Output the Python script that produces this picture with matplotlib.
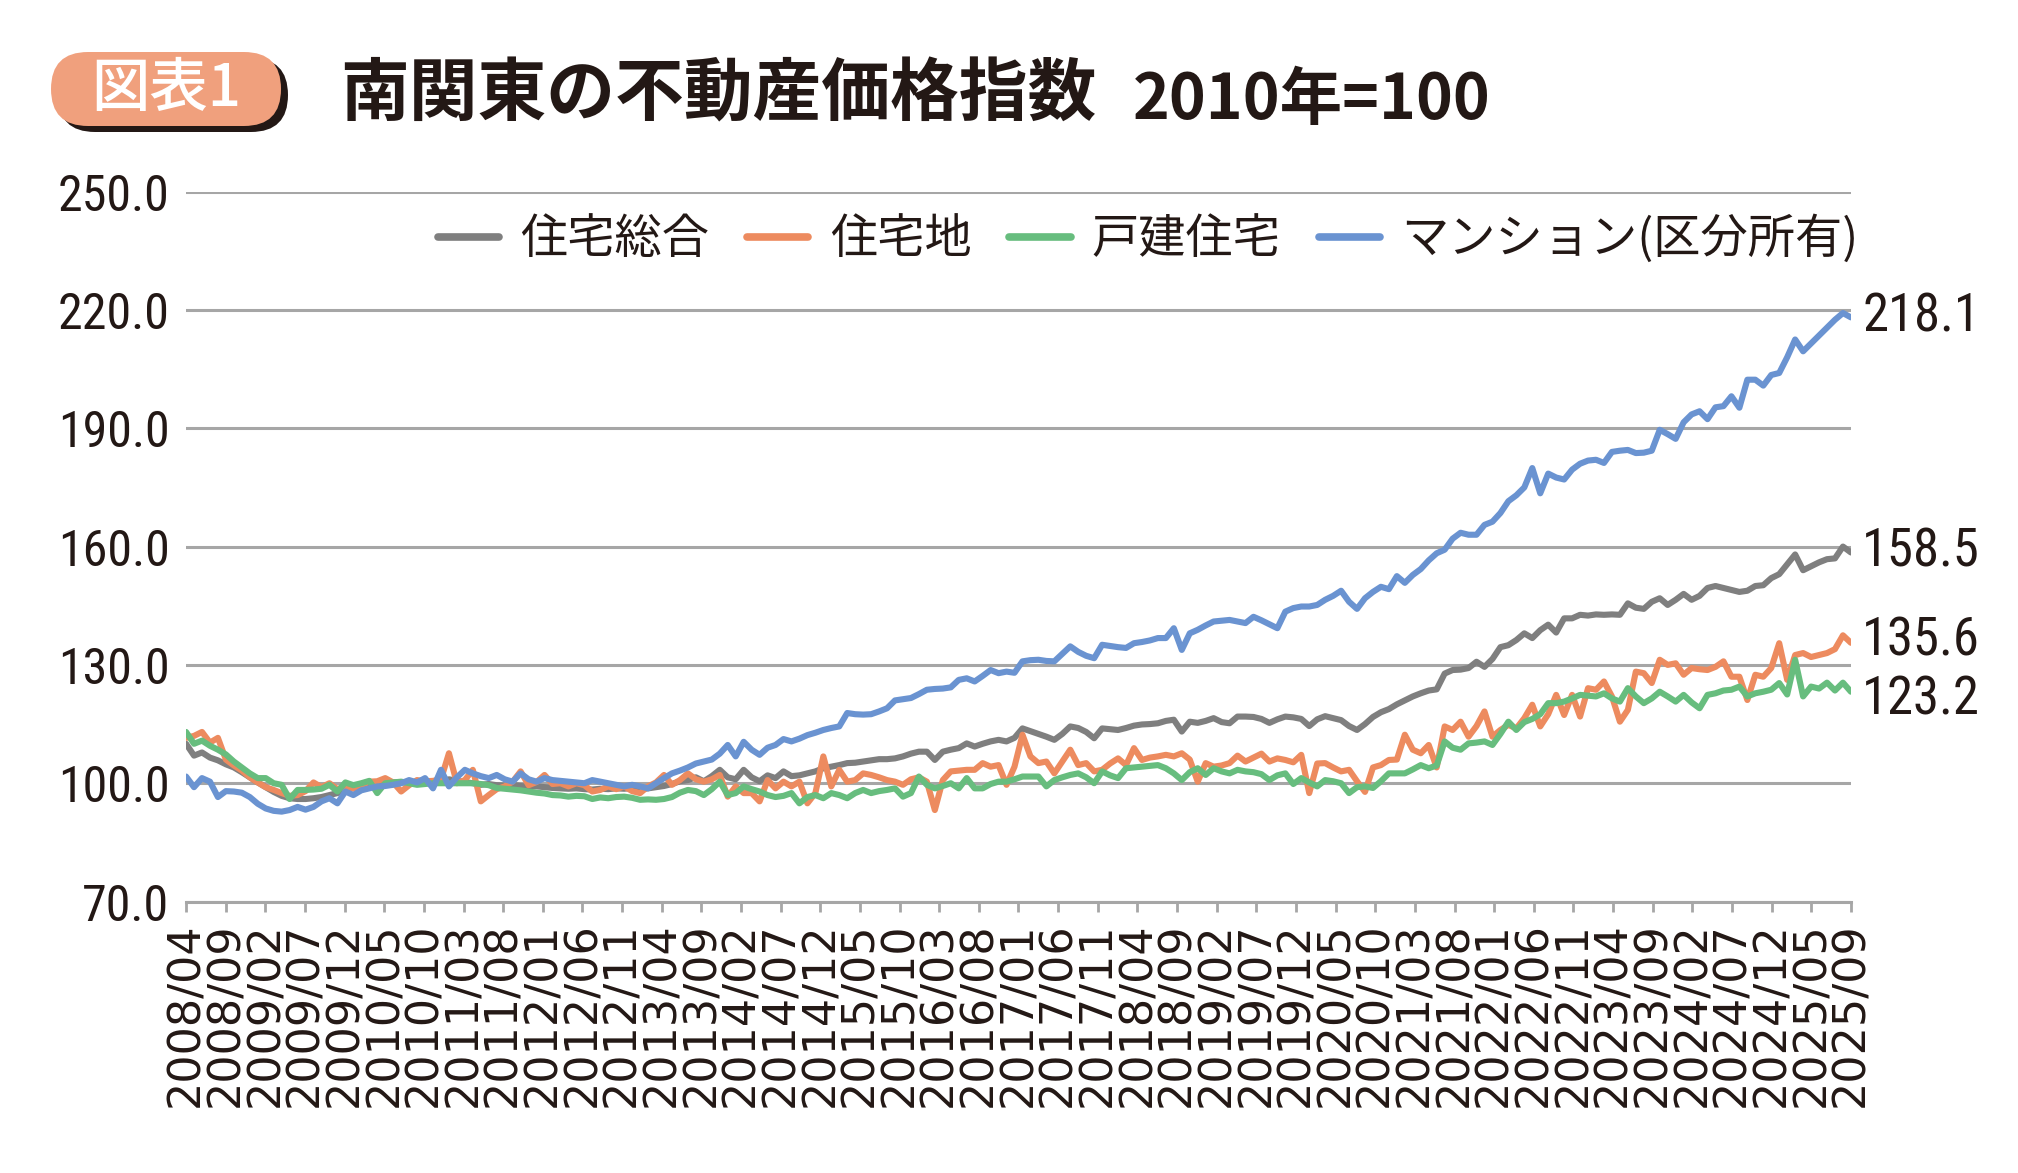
import matplotlib
matplotlib.use('Agg')
import matplotlib.pyplot as plt
from matplotlib import font_manager as fm
from matplotlib.patches import FancyBboxPatch
from matplotlib.transforms import IdentityTransform
import numpy as np
import pandas as pd

plt.rcParams['font.family'] = ['Noto Sans CJK JP', 'DejaVu Sans']

# monthly categories 2008/04 .. 2025/09
months = pd.period_range('2008-04', '2025-09', freq='M').strftime('%Y/%m').tolist()

series_names = ['住宅総合', '住宅地', '戸建住宅', 'マンション(区分所有)']
colors = ['#7f7f7f', '#ED8B5F', '#67BD7E', '#6A93D1']

housing_total = [
    110.0, 107.0, 107.8, 106.5, 105.8, 104.8, 104.0, 102.8, 101.5, 100.2,
    99.0, 97.8, 96.8, 96.2, 96.0, 96.0, 96.2, 96.5, 97.0, 97.5,
    98.3, 99.0, 99.3, 99.6, 99.8, 100.0, 100.2, 100.3, 100.0, 100.4,
    100.2, 100.5, 100.3, 101.0, 100.6, 100.3, 100.0, 99.6, 99.8, 99.5,
    99.4, 99.6, 99.3, 99.1, 99.2, 99.0, 98.8, 98.7, 98.6, 98.7,
    98.5, 98.4, 98.6, 98.5, 98.7, 98.6, 98.8, 98.5, 98.7, 99.0,
    99.3, 99.8, 100.5, 100.8, 101.5, 100.5, 101.8, 103.4, 101.5, 101.0,
    103.4, 101.5, 100.5, 102.0, 101.3, 103.0, 101.8, 102.0, 102.5, 103.0,
    103.8, 104.2, 104.6, 105.1, 105.2, 105.5, 105.8, 106.1, 106.1, 106.3,
    106.8, 107.5, 108.0, 108.0, 105.9, 108.0, 108.5, 108.9, 110.1, 109.3,
    110.0, 110.6, 111.0, 110.6, 111.5, 113.9, 113.2, 112.5, 111.8, 111.0,
    112.5, 114.4, 114.0, 113.0, 111.4, 113.9, 113.7, 113.5, 114.0, 114.6,
    114.9, 115.0, 115.2, 115.8, 116.1, 113.1, 115.6, 115.3, 115.8, 116.5,
    115.5, 115.2, 116.9, 116.9, 116.8, 116.3, 115.3, 116.2, 116.9, 116.7,
    116.3, 114.5, 116.2, 117.0, 116.5, 116.0, 114.5, 113.5, 115.0, 116.8,
    118.0, 118.8, 120.0, 121.0, 122.0, 122.8, 123.5, 123.8, 127.8, 128.7,
    128.8, 129.2, 130.8, 129.5, 131.5, 134.5, 135.0, 136.3, 138.0, 136.8,
    138.8, 140.2, 138.2, 141.8, 141.8, 142.7, 142.5, 142.8, 142.7, 142.8,
    142.7, 145.6, 144.5, 144.2, 146.0, 146.9, 145.2, 146.5, 148.0, 146.5,
    147.5, 149.5, 150.0, 149.5, 149.0, 148.5, 148.8, 150.0, 150.2, 152.0,
    153.0, 155.5, 158.0, 154.0, 155.0, 156.0, 156.8, 157.0, 160.0, 158.5,
]

residential_land = [
    111.5, 112.0, 113.0, 110.3, 111.5, 106.0, 104.5, 103.2, 101.5, 100.2,
    99.0, 98.3, 97.5, 96.8, 97.0, 98.0, 100.2, 99.0, 100.0, 98.5,
    99.2, 98.6, 99.5, 100.4, 100.5, 101.3, 100.2, 97.9, 99.5, 100.8,
    100.5, 100.6, 101.0, 107.6, 100.0, 100.8, 103.4, 95.4, 97.0, 98.5,
    99.2, 100.4, 103.0, 99.5, 100.3, 102.1, 99.8, 100.0, 99.2, 100.0,
    99.5, 97.9, 98.3, 99.2, 98.5, 99.2, 98.0, 97.5, 99.2, 100.2,
    102.1, 99.6, 100.8, 102.5, 101.0, 100.4, 101.0, 102.1, 96.6, 99.2,
    97.5, 97.5, 95.4, 100.8, 98.7, 100.4, 99.2, 100.4, 94.9, 97.5,
    106.8, 99.2, 103.4, 100.4, 100.8, 102.5, 102.1, 101.5, 100.8, 100.4,
    99.6, 101.0, 101.5, 100.4, 93.2, 100.8, 103.0, 103.2, 103.4, 103.4,
    105.1, 104.2, 104.6, 99.6, 104.2, 112.3, 106.8, 105.1, 105.5, 102.5,
    105.5, 108.5, 104.6, 105.1, 103.0, 103.4, 105.0, 106.3, 104.6, 108.9,
    105.9, 106.5, 106.8, 107.2, 106.8, 107.6, 106.0, 100.4, 105.1, 104.2,
    104.5, 105.1, 107.0, 105.5, 106.5, 107.5, 105.5, 106.3, 105.9, 105.3,
    107.2, 97.5, 105.0, 105.1, 104.0, 103.0, 103.4, 100.5, 97.8, 104.0,
    104.6, 105.9, 106.0, 112.3, 108.5, 107.6, 109.7, 104.0, 114.4, 113.5,
    115.6, 111.8, 114.5, 118.2, 111.8, 113.5, 114.8, 113.9, 116.5, 119.9,
    114.4, 117.5, 122.4, 117.3, 122.4, 116.9, 124.1, 123.7, 125.8, 122.0,
    115.6, 118.6, 128.3, 127.9, 125.4, 131.3, 130.0, 130.4, 127.5, 129.2,
    128.9, 128.7, 129.5, 130.9, 127.0, 127.0, 121.1, 127.5, 127.0, 129.2,
    135.5, 126.2, 132.5, 133.0, 132.0, 132.5, 133.0, 134.0, 137.5, 135.6,
]

detached_house = [
    113.0, 110.0, 110.8, 109.5, 108.5, 107.3, 105.5, 104.0, 102.5, 101.3,
    101.3, 100.0, 99.6, 96.0, 98.3, 98.3, 98.4, 98.6, 99.6, 97.9,
    100.2, 99.5, 100.0, 100.6, 97.5, 100.0, 100.2, 100.4, 100.0, 99.6,
    99.8, 100.0, 100.0, 100.0, 100.0, 100.0, 100.0, 99.8, 99.5, 98.8,
    98.6, 98.4, 98.2, 97.9, 97.6, 97.4, 97.0, 96.9, 96.6, 96.8,
    96.7, 96.0, 96.4, 96.2, 96.5, 96.6, 96.3, 95.8, 95.9, 95.8,
    96.0, 96.5, 97.6, 98.3, 98.0, 97.0, 98.5, 100.4, 97.0, 97.5,
    99.2, 98.5, 97.9, 97.0, 96.5, 96.8, 97.5, 94.9, 96.5, 97.0,
    96.2, 97.5, 97.0, 96.2, 97.5, 98.3, 97.5, 98.0, 98.3, 98.7,
    96.6, 97.5, 101.7, 99.6, 98.7, 99.3, 100.0, 98.7, 101.3, 98.7,
    98.7, 99.8, 100.4, 100.4, 101.0, 101.7, 101.7, 101.7, 99.2, 100.8,
    101.5, 102.1, 102.5, 101.5, 100.0, 103.0, 102.0, 101.3, 103.8, 104.0,
    104.2, 104.4, 104.6, 103.8, 102.5, 100.8, 102.8, 103.8, 102.1, 103.8,
    103.0, 102.5, 103.4, 103.0, 102.8, 102.3, 100.8, 102.0, 102.5, 99.8,
    101.3, 100.2, 99.2, 100.8, 100.5, 100.0, 97.5, 99.0, 99.2, 98.8,
    100.5, 102.5, 102.5, 102.5, 103.5, 104.6, 103.8, 104.5, 110.6, 109.0,
    108.5, 110.1, 110.3, 110.6, 109.7, 112.5, 115.6, 113.5, 115.5, 116.3,
    117.5, 120.3, 120.3, 120.7, 121.5, 122.4, 122.2, 122.0, 122.8, 121.5,
    120.7, 124.1, 122.0, 120.3, 121.5, 123.2, 122.0, 120.7, 122.4, 120.5,
    119.0, 122.4, 122.8, 123.5, 123.7, 124.5, 122.0, 122.8, 123.2, 123.7,
    125.4, 122.5, 131.3, 122.0, 124.5, 124.0, 125.5, 123.5, 125.5, 123.2,
]

condominium = [
    101.7, 99.0, 101.3, 100.4, 96.5, 98.0, 97.9, 97.6, 96.5, 94.8,
    93.6, 93.0, 92.8, 93.2, 94.0, 93.3, 94.0, 95.4, 96.2, 94.9,
    97.9, 97.0, 98.2, 98.7, 99.2, 99.3, 99.6, 100.0, 100.8, 100.2,
    101.3, 98.7, 103.4, 99.2, 101.5, 103.4, 102.5, 101.8, 101.3, 102.1,
    101.0, 100.4, 102.5, 101.0, 100.4, 101.3, 100.8, 100.6, 100.4, 100.2,
    100.0, 100.8, 100.4, 100.0, 99.6, 99.2, 99.6, 99.2, 98.7, 100.0,
    101.3, 102.5, 103.2, 104.0, 105.0, 105.5, 106.0, 107.5, 109.7, 106.8,
    110.5, 108.5, 107.2, 109.0, 109.7, 111.2, 110.6, 111.3, 112.2, 112.8,
    113.5, 114.0, 114.4, 117.8, 117.5, 117.4, 117.5, 118.2, 119.0, 121.0,
    121.3, 121.6, 122.6, 123.7, 123.9, 124.0, 124.3, 126.2, 126.6, 125.8,
    127.2, 128.7, 127.9, 128.3, 128.0, 130.9, 131.2, 131.3, 131.0, 130.9,
    132.8, 134.7, 133.3, 132.3, 131.7, 135.1, 134.8, 134.5, 134.3, 135.5,
    135.8, 136.2, 136.8, 136.8, 139.3, 133.8, 138.0, 138.9, 140.0, 141.0,
    141.2, 141.4, 141.0, 140.6, 142.2, 141.3, 140.3, 139.3, 143.5, 144.4,
    144.8, 144.8, 145.2, 146.5, 147.5, 148.8, 146.0, 144.2, 146.9, 148.5,
    149.8, 149.2, 152.5, 150.8, 152.8, 154.3, 156.5, 158.3, 159.2, 162.0,
    163.5, 163.0, 163.0, 165.5, 166.3, 168.5, 171.5, 173.0, 175.0, 179.9,
    173.5, 178.5, 177.5, 177.0, 179.5, 181.0, 181.8, 182.0, 181.2, 184.0,
    184.3, 184.5, 183.7, 183.8, 184.3, 189.6, 188.5, 187.3, 191.5, 193.5,
    194.3, 192.3, 195.3, 195.6, 198.1, 195.2, 202.3, 202.3, 200.8, 203.5,
    204.0, 208.0, 212.5, 209.5, 211.5, 213.5, 215.5, 217.5, 219.2, 218.1,
]

all_series = [housing_total, residential_land, detached_house, condominium]
label_dy = [0, 1, -6, 0]  # vertical nudge (pt) of the end-value labels

text_color = '#231815'
grid_color = '#a6a6a6'

# look for a narrow sans for the numbers, like the original
names = {f.name for f in fm.fontManager.ttflist}
num_font = {'family': 'Liberation Sans'}
for cand in ['Liberation Sans Narrow', 'Arial Narrow', 'Roboto Condensed',
             'Noto Sans Condensed', 'Open Sans Condensed', 'DejaVu Sans Condensed']:
    if cand in names:
        num_font = {'family': cand}
        break
else:
    for f in fm.fontManager.ttflist:
        if 'condensed' in str(f.stretch) and f.name in ('Noto Sans', 'Open Sans', 'Roboto',
                                                        'DejaVu Sans', 'Inter', 'Lato'):
            num_font = {'family': f.name, 'stretch': f.stretch}
            break
condensed = num_font['family'] != 'Liberation Sans'
num_size_tick = 36 if condensed else 33
num_size_end = 38 if condensed else 35

fig = plt.figure(figsize=(20.18, 11.73), dpi=100)
fig.patch.set_facecolor('white')
ax = fig.add_axes([0.0922, 0.2314, 0.825, 0.6053])

x = np.arange(len(months))
for name, vals, c in zip(series_names, all_series, colors):
    ax.plot(x, vals, color=c, lw=4.4, label=name,
            solid_joinstyle='round', solid_capstyle='round')

# value labels at the right end
for vals, dy in zip(all_series, label_dy):
    ax.annotate(f'{vals[-1]:.1f}', xy=(x[-1], vals[-1]), xytext=(8, dy),
                textcoords='offset points', ha='left', va='center',
                fontsize=num_size_end, color=text_color,
                annotation_clip=False, **num_font)

ax.set_xlim(0, len(months) - 1)
ax.set_ylim(70, 250)
yticks = np.arange(70, 251, 30)
ax.set_yticks(yticks)
ax.set_yticklabels([f'{v:.1f}' for v in yticks], fontsize=num_size_tick,
                   color=text_color, **num_font)
ax.yaxis.grid(True, color=grid_color, lw=2.2)
ax.set_axisbelow(True)
for s in ['top', 'right', 'left']:
    ax.spines[s].set_visible(False)
ax.spines['bottom'].set_color(grid_color)
ax.spines['bottom'].set_linewidth(2.2)

# 43 evenly spaced labels: every 5th month up to 2025/05, plus the final month
label_idx = list(range(0, len(months) - 4, 5)) + [len(months) - 1]
tick_pos = np.linspace(0, len(months) - 1, len(label_idx))
ax.set_xticks(tick_pos)
ax.set_xticklabels([months[i] for i in label_idx], rotation=90, fontsize=32,
                   family='DejaVu Sans', color=text_color)
ax.tick_params(axis='x', length=7, width=2, color=grid_color, pad=8)
ax.tick_params(axis='y', length=0, pad=12)

leg = fig.legend(loc='center right', bbox_to_anchor=(0.921, 0.7956), ncol=4,
                 frameon=False, fontsize=34, handlelength=1.3,
                 handletextpad=0.45, columnspacing=0.8, borderpad=0,
                 borderaxespad=0)
for t in leg.get_texts():
    t.set_color(text_color)
for h in leg.get_lines():
    h.set_linewidth(5.5)

# title badge (pixel coords)
H = 1173
shadow = FancyBboxPatch((58, H - 132), 230, 74, boxstyle='round,pad=0,rounding_size=37',
                        transform=IdentityTransform(), facecolor=text_color,
                        edgecolor='none')
badge = FancyBboxPatch((51, H - 126), 230, 74, boxstyle='round,pad=0,rounding_size=37',
                       transform=IdentityTransform(), facecolor='#F0A07D',
                       edgecolor='none')
fig.add_artist(shadow)
fig.add_artist(badge)
fig.text(166 / 2018, 1 - 89 / H, '図表1', ha='center', va='center',
         fontsize=42, fontweight='medium', color='white')

fig.text(0.1685, 0.919, '南関東の不動産価格指数', ha='left', va='center',
         fontsize=49.5, fontweight='bold', color=text_color)
fig.text(0.5615, 0.9147, '2010年=100', ha='left', va='center',
         fontsize=45, fontweight='bold', color=text_color)

fig.savefig('out.png', dpi=100, facecolor='white')
